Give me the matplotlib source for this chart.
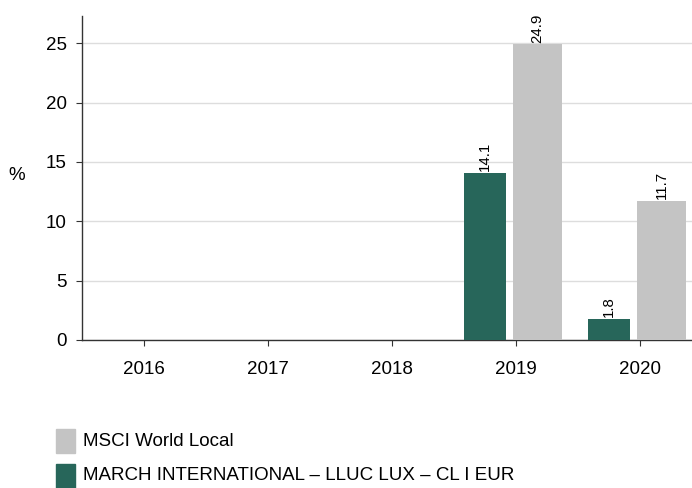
#!/usr/bin/python3

"""Annual returns of the fund against its benchmark, grouped bars."""

import matplotlib.pyplot as plt
from matplotlib.patches import Rectangle

years = ["2016", "2017", "2018", "2019", "2020"]
fund = [None, None, None, 14.1, 1.8]
bench = [None, None, None, 24.9, 11.7]

fund_name = "MARCH INTERNATIONAL \u2013 LLUC LUX \u2013 CL I EUR"
bench_name = "MSCI World Local"

GREEN = "#27665a"
GREY = "#c4c4c4"

plt.rcParams["font.family"] = ["Liberation Sans", "DejaVu Sans"]


def make_plot():
    fig = plt.figure(figsize=(6.92, 4.88), dpi=100)
    ax = fig.add_axes([82 / 692, 148 / 488, 610 / 692, 324 / 488])

    for i, (f, b) in enumerate(zip(fund, bench)):
        if f is not None:
            ax.bar(i - 0.25, f, width=0.34, color=GREEN, zorder=3)
            ax.text(i - 0.25, f + 0.15, f"{f:.1f}", rotation=90,
                    ha="center", va="bottom", fontsize=10.8)
        if b is not None:
            ax.bar(i + 0.175, b, width=0.395, color=GREY, zorder=3)
            ax.text(i + 0.175, b + 0.15, f"{b:.1f}", rotation=90,
                    ha="center", va="bottom", fontsize=10.8)

    ax.set_xlim(-0.5, 4.42)
    ax.set_ylim(0, 27.3)
    ax.set_xticks(range(len(years)))
    ax.set_xticklabels(years)
    ax.set_yticks([0, 5, 10, 15, 20, 25])
    ax.tick_params(axis="both", labelsize=13.5, color="#333333",
                   length=4, width=0.8)
    ax.tick_params(axis="x", pad=11)
    ax.tick_params(axis="y", pad=7)
    ax.grid(axis="y", color="#dddddd", linewidth=1, zorder=0)
    for side in ("top", "right"):
        ax.spines[side].set_visible(False)
    for side in ("left", "bottom"):
        ax.spines[side].set_color("#333333")
        ax.spines[side].set_linewidth(1)
    ax.set_ylabel("%", rotation=0, fontsize=13.5, va="center", ha="center")
    ax.yaxis.set_label_coords(-0.1066, 0.508)

    # legend below the plot
    for (name, color), yc in zip([(bench_name, GREY), (fund_name, GREEN)],
                                 [441, 476]):
        fig.patches.append(Rectangle((56 / 692, 1 - (yc + 12) / 488),
                                     19 / 692, 24 / 488, color=color,
                                     transform=fig.transFigure))
        fig.text(83 / 692, 1 - yc / 488, name, fontsize=13.5, va="center")

    return fig


if __name__ == "__main__":
    fig = make_plot()
    fig.savefig("out.png", dpi=100)
